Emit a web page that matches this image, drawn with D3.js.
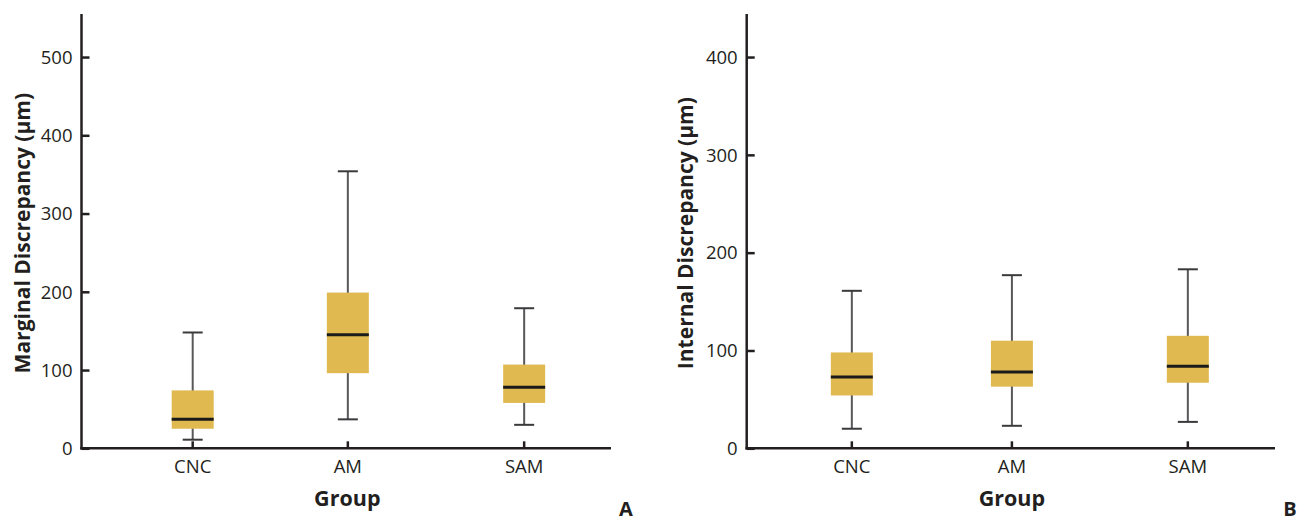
<!DOCTYPE html>
<html>
<head>
<meta charset="utf-8">
<script src="https://cdn.jsdelivr.net/npm/d3@7"></script>
<style>
  html, body { margin: 0; padding: 0; background: #fff; }
  svg { display: block; }
  text { font-family: "Open Sans", "Noto Sans", sans-serif; fill: #231f20; }
</style>
</head>
<body>
<svg id="chart" width="1298" height="523"></svg>
<script>
// ---- data ----
const categories = ["CNC", "AM", "SAM"];

// Panel A: Marginal discrepancy (µm)
const marginalWhiskerLow  = [11, 37, 30];
const marginalQ1          = [25, 96, 58];
const marginalMedian      = [37, 145, 78];
const marginalQ3          = [74, 199, 107];
const marginalWhiskerHigh = [148, 354, 179];
const marginalTicks       = [0, 100, 200, 300, 400, 500];

// Panel B: Internal discrepancy (µm)
const internalWhiskerLow  = [20, 23, 27];
const internalQ1          = [54, 63, 67];
const internalMedian      = [73, 78, 84];
const internalQ3          = [98, 110, 115];
const internalWhiskerHigh = [161, 177, 183];
const internalTicks       = [0, 100, 200, 300, 400];

const svg = d3.select("#chart");
const boxColor = "#e0b951";
const inkColor = "#231f20";

function panel(opts) {
  const { left, right, top, bottom, yMax, ticks, title, letter, lo, q1, med, q3, hi, catPos, titleX } = opts;
  const g = svg.append("g");
  const y = d3.scaleLinear().domain([0, yMax]).range([bottom, top]);
  const xFrac = d3.scaleOrdinal(categories, catPos);
  const xLin = d3.scaleLinear().domain([0, 1]).range([left, right]);
  const x = c => xLin(xFrac(c));

  const rows = categories.map((c, i) => ({ c, lo: lo[i], q1: q1[i], med: med[i], q3: q3[i], hi: hi[i] }));
  const bw = 42, cap = 20;

  // whiskers
  g.selectAll(".wh").data(rows).join("line")
    .attr("x1", d => x(d.c)).attr("x2", d => x(d.c))
    .attr("y1", d => y(d.lo)).attr("y2", d => y(d.hi))
    .attr("stroke", "#58585a").attr("stroke-width", 2);
  ["lo", "hi"].forEach(k => {
    g.selectAll(".cap" + k).data(rows).join("line")
      .attr("x1", d => x(d.c) - cap / 2).attr("x2", d => x(d.c) + cap / 2)
      .attr("y1", d => y(d[k])).attr("y2", d => y(d[k]))
      .attr("stroke", "#3a3a3c").attr("stroke-width", 2);
  });
  // boxes
  g.selectAll(".box").data(rows).join("rect")
    .attr("x", d => x(d.c) - bw / 2).attr("width", bw)
    .attr("y", d => y(d.q3)).attr("height", d => y(d.q1) - y(d.q3))
    .attr("fill", boxColor);
  // medians
  g.selectAll(".med").data(rows).join("line")
    .attr("x1", d => x(d.c) - bw / 2).attr("x2", d => x(d.c) + bw / 2)
    .attr("y1", d => y(d.med)).attr("y2", d => y(d.med))
    .attr("stroke", "#1a1a1a").attr("stroke-width", 3);

  // y axis
  const yAxis = d3.axisRight(y).tickValues(ticks).tickSize(8).tickFormat(d3.format("d"));
  const ya = g.append("g").attr("transform", `translate(${left},0)`).call(yAxis);
  ya.select(".domain").remove();
  ya.selectAll(".tick line").attr("stroke", inkColor).attr("stroke-width", 2.5);
  ya.selectAll(".tick text").attr("x", -9).attr("text-anchor", "end")
    .attr("font-size", 18.5).attr("fill", inkColor).attr("dy", "0.34em");
  g.append("line").attr("x1", left).attr("x2", left).attr("y1", top).attr("y2", bottom + 1.25)
    .attr("stroke", inkColor).attr("stroke-width", 2.5);

  // x axis
  g.append("line").attr("x1", left - 1.25).attr("x2", right).attr("y1", bottom).attr("y2", bottom)
    .attr("stroke", inkColor).attr("stroke-width", 2.5);
  g.selectAll(".xt").data(categories).join("line")
    .attr("x1", d => x(d)).attr("x2", d => x(d))
    .attr("y1", bottom).attr("y2", bottom - 7)
    .attr("stroke", inkColor).attr("stroke-width", 2.5);
  g.selectAll(".xl").data(categories).join("text")
    .attr("x", d => x(d)).attr("y", bottom + 25)
    .attr("text-anchor", "middle").attr("font-size", 18.5).text(d => d);

  // titles
  g.append("text").attr("x", xLin(0.502)).attr("y", 506)
    .attr("text-anchor", "middle").attr("font-size", 21.5).attr("font-weight", 700).text("Group");
  g.append("text")
    .attr("transform", `translate(${titleX},${(top + bottom) / 2 + 2}) rotate(-90)`)
    .attr("text-anchor", "middle").attr("font-size", 21).attr("font-weight", 700).text(title);
  g.append("text").attr("x", letter[0]).attr("y", letter[1])
    .attr("text-anchor", "middle").attr("font-size", 20).attr("font-weight", 700).text(letter[2]);
}

panel({
  left: 81.5, right: 611, top: 14, bottom: 448.3, yMax: 555,
  ticks: marginalTicks, title: "Marginal Discrepancy (µm)", titleX: 30,
  letter: [626, 516, "A"], catPos: [0.21, 0.503, 0.836],
  lo: marginalWhiskerLow, q1: marginalQ1, med: marginalMedian, q3: marginalQ3, hi: marginalWhiskerHigh
});
panel({
  left: 746.7, right: 1275, top: 14, bottom: 448.3, yMax: 444,
  ticks: internalTicks, title: "Internal Discrepancy (µm)", titleX: 693,
  letter: [1290, 516, "B"], catPos: [0.199, 0.502, 0.835],
  lo: internalWhiskerLow, q1: internalQ1, med: internalMedian, q3: internalQ3, hi: internalWhiskerHigh
});
</script>
</body>
</html>
